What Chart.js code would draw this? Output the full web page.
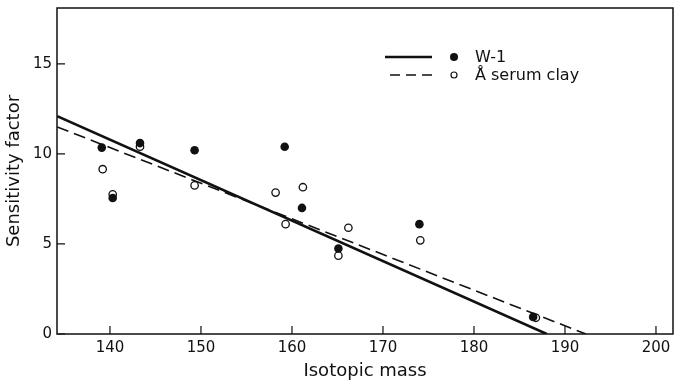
<!DOCTYPE html>
<html>
<head>
<meta charset="utf-8">
<script src="https://cdn.jsdelivr.net/npm/chart.js@4.4.0/dist/chart.umd.min.js"></script>
<style>
  html, body { margin: 0; padding: 0; background: #fff; }
</style>
</head>
<body>
<canvas id="myChart" width="675" height="382"></canvas>
<script>
// W-1 standard rock
const w1Mass = [139.1, 140.3, 143.3, 149.3, 159.2, 161.1, 165.1, 174.0, 186.5];
const w1Factor = [10.35, 7.55, 10.6, 10.2, 10.4, 7.0, 4.75, 6.1, 0.95];

// serum clay
const clayMass = [139.2, 140.3, 143.3, 149.3, 158.2, 159.3, 161.2, 165.1, 166.2, 174.1, 186.8];
const clayFactor = [9.15, 7.75, 10.4, 8.25, 7.85, 6.1, 8.15, 4.35, 5.9, 5.2, 0.9];

// fitted lines (end points)
const w1FitMass = [134.2, 188.0];
const w1FitFactor = [12.1, 0];
const clayFitMass = [134.2, 192.3];
const clayFitFactor = [11.5, 0];

const massTicks = [140, 150, 160, 170, 180, 190, 200];
const factorTicks = [0, 5, 10, 15];
const seriesLabels = ['W-1', 'Å serum clay'];

const toPoints = (xs, ys) => xs.map((v, i) => ({ x: v, y: ys[i] }));

Chart.defaults.font.family = "'DejaVu Sans', sans-serif";
Chart.defaults.color = '#111';

// box round the plot plus inward tick marks
const framePlugin = {
  id: 'frame',
  afterDraw(chart) {
    const { ctx, chartArea: a, scales: { x, y } } = chart;
    ctx.save();
    ctx.strokeStyle = '#111';
    ctx.lineWidth = 1.5;
    ctx.strokeRect(a.left, a.top, a.right - a.left, a.bottom - a.top);
    ctx.lineWidth = 1.2;
    ctx.beginPath();
    massTicks.forEach(v => {
      const px = x.getPixelForValue(v);
      ctx.moveTo(px, a.bottom);
      ctx.lineTo(px, a.bottom - 8);
    });
    factorTicks.forEach(v => {
      const py = y.getPixelForValue(v);
      ctx.moveTo(a.left, py);
      ctx.lineTo(a.left + 8, py);
    });
    ctx.stroke();
    ctx.restore();
  }
};

// legend: line sample, marker, label
const keyPlugin = {
  id: 'key',
  afterDraw(chart, args, opts) {
    const { ctx } = chart;
    ctx.save();
    ctx.strokeStyle = '#111';
    ctx.fillStyle = '#111';
    ctx.font = "16px 'DejaVu Sans', sans-serif";
    ctx.textBaseline = 'middle';
    seriesLabels.forEach((label, i) => {
      const yy = opts.y + i * opts.rowHeight;
      ctx.beginPath();
      ctx.lineWidth = i === 0 ? 2.6 : 1.6;
      ctx.setLineDash(i === 0 ? [] : [10, 6]);
      ctx.moveTo(i === 0 ? opts.x : opts.x + 5, yy);
      ctx.lineTo(opts.x + 47, yy);
      ctx.stroke();
      ctx.setLineDash([]);
      ctx.beginPath();
      if (i === 0) {
        ctx.arc(opts.x + 69, yy, 4, 0, Math.PI * 2);
        ctx.fill();
      } else {
        ctx.lineWidth = 1.2;
        ctx.arc(opts.x + 69, yy, 3, 0, Math.PI * 2);
        ctx.stroke();
      }
      ctx.fillText(label, opts.x + 90, yy + 1);
    });
    ctx.restore();
  }
};

const ctx = document.getElementById('myChart');

const myChart = new Chart(ctx, {
  type: 'scatter',
  data: {
    datasets: [
      {
        label: seriesLabels[0],
        data: toPoints(w1Mass, w1Factor),
        pointRadius: 4.3,
        backgroundColor: '#111',
        borderWidth: 0
      },
      {
        label: seriesLabels[1],
        data: toPoints(clayMass, clayFactor),
        pointRadius: 3.7,
        backgroundColor: '#fff',
        borderColor: '#111',
        borderWidth: 1.3
      },
      {
        type: 'line',
        data: toPoints(w1FitMass, w1FitFactor),
        borderColor: '#111',
        borderWidth: 2.6,
        pointRadius: 0
      },
      {
        type: 'line',
        data: toPoints(clayFitMass, clayFitFactor),
        borderColor: '#111',
        borderWidth: 1.6,
        borderDash: [12, 6],
        pointRadius: 0
      }
    ]
  },
  options: {
    responsive: false,
    animation: false,
    layout: { autoPadding: false, padding: { top: 8, right: 2, left: 0, bottom: 0 } },
    plugins: {
      legend: { display: false },
      tooltip: { enabled: false },
      key: { x: 385, y: 57, rowHeight: 18 }
    },
    scales: {
      x: {
        type: 'linear',
        min: 134.18,
        max: 201.87,
        afterFit: (s) => {
          s.height = 48;
          s.paddingLeft = 0;
          s.paddingRight = 0;
        },
        afterBuildTicks: (s) => { s.ticks = massTicks.map(v => ({ value: v })); },
        grid: { display: false, drawTicks: false },
        border: { display: false },
        ticks: { padding: 5, font: { size: 15 }, color: '#111' },
        title: { display: true, text: 'Isotopic mass', font: { size: 18 }, color: '#111', padding: 0 }
      },
      y: {
        min: 0,
        max: 18.1,
        afterFit: (s) => {
          s.width = 57;
          s.paddingTop = 0;
          s.paddingBottom = 0;
        },
        afterBuildTicks: (s) => { s.ticks = factorTicks.map(v => ({ value: v })); },
        grid: { display: false, drawTicks: false },
        border: { display: false },
        ticks: { padding: 5, font: { size: 15 }, color: '#111' },
        title: { display: true, text: 'Sensitivity factor', font: { size: 18 }, color: '#111', padding: { top: 4, bottom: 0 } }
      }
    }
  },
  plugins: [framePlugin, keyPlugin]
});
</script>
</body>
</html>
